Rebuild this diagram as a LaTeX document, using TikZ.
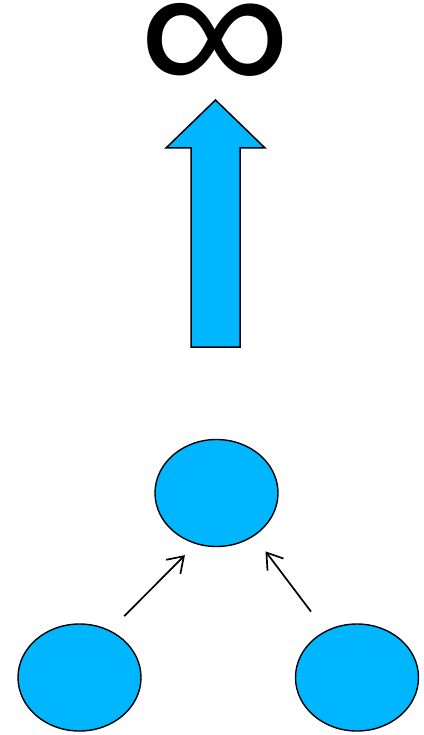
\documentclass[tikz,border=0pt]{standalone}
\usepackage{tikz}
\usepackage{fontspec}
\usetikzlibrary{shapes.geometric,arrows.meta}

\newfontfamily\limitfont{Liberation Sans}
\definecolor{blobcyan}{RGB}{0,183,255}

\begin{document}
\begin{tikzpicture}[x=1pt,y=-1pt, every node/.style={font=\small},
    blob/.style={draw, ellipse, fill=blobcyan, line width=1.4pt, minimum width=123pt, minimum height=107pt, inner sep=0pt},
    feed/.style={line width=1.7pt, -{Straight Barb[length=15pt, width=20pt, line width=1.7pt]}}]
    \useasboundingbox (0,0) rectangle (423,735);
    % the limit
    \node[inner sep=0pt, xscale=1.12] (limit) at (215,49) {\fontsize{192}{192}\limitfont ∞};
    % growth arrow
    \draw[fill=blobcyan, line width=1.5pt] (191,347) -- (240,347) -- (240,148) -- (265,148)
        -- (215.5,100) -- (166,148) -- (191,148) -- cycle;
    % three blobs
    \node[blob] (top) at (216.5,493) {};
    \node[blob] (left) at (79.5,677.5) {};
    \node[blob] (right) at (357,677.5) {};
    \draw[feed, shorten <=20pt, shorten >=15.5pt] (left.57.4) -- (top.248.6);
    \draw[feed, shorten <=24pt, shorten >=19pt] (right.124.2) -- (top.311.3);
\end{tikzpicture}
\end{document}
